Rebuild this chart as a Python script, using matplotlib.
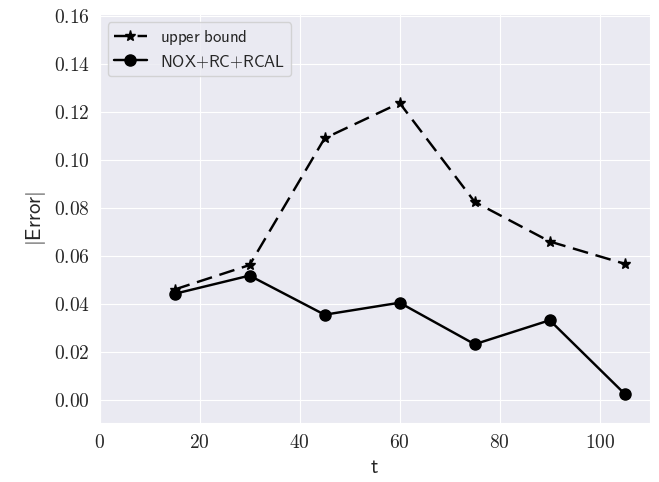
import matplotlib
matplotlib.use("Agg")
import matplotlib.pyplot as plt
import seaborn as sns
from matplotlib.ticker import FuncFormatter

t = [15, 30, 45, 60, 75, 90, 105]
upper_bound = [0.0460, 0.0562, 0.1090, 0.1237, 0.0825, 0.0660, 0.0567]
nox_rc_rcal = [0.0442, 0.0518, 0.0355, 0.0405, 0.0232, 0.0332, 0.0025]

sns.set_style("darkgrid")
plt.rcParams['mathtext.fontset'] = 'cm'

fig = plt.figure(figsize=(6.59, 4.82), dpi=100)
ax = fig.add_axes([0.151, 0.122, 0.835, 0.849])

ax.plot(t, upper_bound, color='black', marker='*', markersize=8, lw=1.75,
        dashes=(6.5, 3.2), label=r'$\mathsf{upper\ bound}$')
ax.plot(t, nox_rc_rcal, color='black', marker='o', markersize=8, lw=1.75,
        label=r'$\mathsf{NOX{+}RC{+}RCAL}$')

ax.set_xlim(0, 110)
ax.set_ylim(-0.0097, 0.1608)
ax.set_xticks([0, 20, 40, 60, 80, 100])
ax.set_yticks([0.0, 0.02, 0.04, 0.06, 0.08, 0.10, 0.12, 0.14, 0.16])
ax.xaxis.set_major_formatter(FuncFormatter(lambda v, p: r'$%d$' % v))
ax.yaxis.set_major_formatter(FuncFormatter(lambda v, p: r'$%.2f$' % v))
ax.tick_params(labelsize=14)

ax.set_xlabel(r'$\mathsf{t}$', fontsize=15)
ax.set_ylabel(r'$\mathsf{|Error|}$', fontsize=15)

ax.legend(loc='upper left', fontsize=12, labelspacing=0.3,
          borderaxespad=0.5, borderpad=0.35)

fig.savefig('out.png', dpi=100)
